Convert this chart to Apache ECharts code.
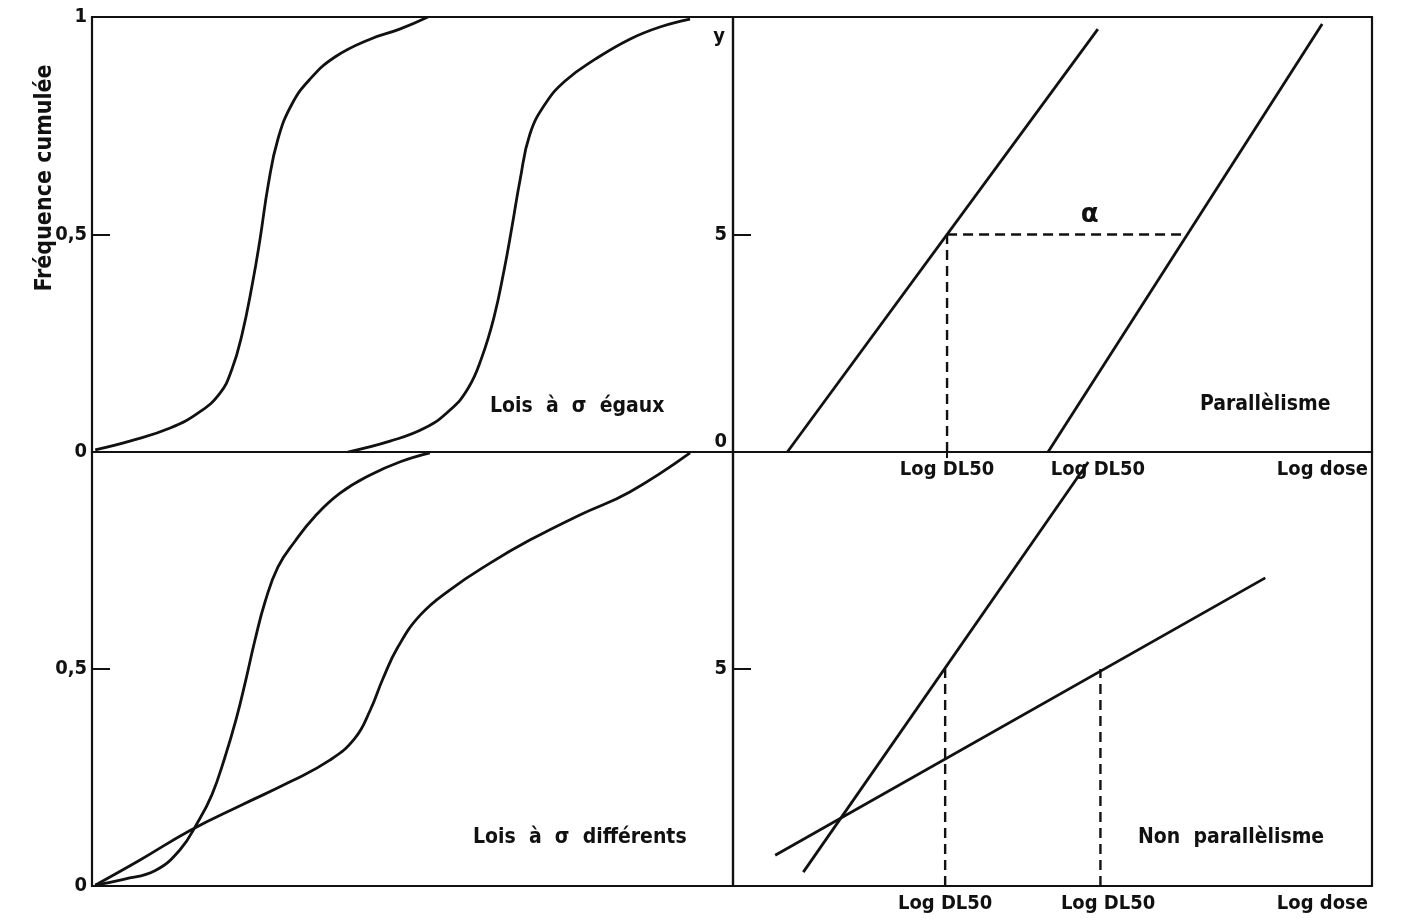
<!DOCTYPE html>
<html>
<head>
<meta charset="utf-8">
<script src="https://cdn.jsdelivr.net/npm/echarts@6/dist/echarts.min.js"></script>
<style>
  html, body { margin: 0; padding: 0; background: #fff; }
  #chart { width: 1406px; height: 924px; }
</style>
</head>
<body>
<div id="chart"></div>
<script>
// Cumulative frequency curves (x: log dose, arbitrary units 0..10; y: frequency 0..1)
const equalSigmaA = [[0.05,0.005],[0.59,0.025],[1.22,0.055],[1.68,0.092],[2.00,0.136],[2.18,0.189],[2.34,0.27],[2.50,0.385],[2.62,0.488],[2.75,0.615],[2.90,0.719],[3.12,0.80],[3.40,0.857],[3.79,0.908],[4.34,0.949],[4.80,0.972],[5.24,1.0]];
const equalSigmaB = [[3.99,0.0],[4.65,0.025],[5.19,0.055],[5.59,0.097],[5.87,0.147],[6.08,0.217],[6.27,0.309],[6.43,0.419],[6.55,0.516],[6.68,0.627],[6.83,0.730],[7.07,0.80],[7.38,0.853],[7.85,0.903],[8.39,0.949],[8.86,0.977],[9.33,0.995]];
const diffSigmaA = [[0.05,0.002],[0.51,0.016],[0.98,0.035],[1.37,0.083],[1.65,0.147],[1.87,0.21],[2.07,0.295],[2.25,0.385],[2.40,0.475],[2.54,0.565],[2.70,0.655],[2.90,0.735],[3.17,0.795],[3.48,0.852],[3.87,0.905],[4.34,0.947],[4.80,0.977],[5.27,0.998]];
const diffSigmaB = [[0.05,0.002],[0.75,0.06],[1.53,0.128],[2.31,0.185],[3.09,0.24],[3.71,0.29],[4.10,0.34],[4.34,0.405],[4.54,0.478],[4.77,0.55],[5.12,0.624],[5.58,0.682],[6.21,0.744],[6.83,0.797],[7.61,0.855],[8.39,0.908],[9.33,0.998]];

// Probit lines (x: log dose 0..10; y: probit 0..10)
const parallelA = [[0.85,0],[5.71,9.72]];
const parallelB = [[4.93,0],[9.22,9.84]];
const parallelDL50 = [3.35, 7.11];
const nonParallelA = [[1.10,0.32],[5.56,9.77]];
const nonParallelB = [[0.66,0.71],[8.33,7.10]];
const nonParallelDL50 = [3.32, 5.75];
const probitMid = 5;

// Tick labels
const freqTicksTop = [0, 0.5, 1];
const freqTicksBottom = [0, 0.5];
const probitTicksTop = [0, 5];
const probitTicksBottom = [5];
const topDoseLabels = [3.35, 5.71];
const bottomDoseLabels = [3.32, 5.87];
const doseLabelText = 'Log DL50';
const doseAxisName = 'Log dose';
const freqName = 'Fréquence cumulée';
const panelTitles = ['Lois  à  σ  égaux', 'Lois  à  σ  différents', 'Parallèlisme', 'Non  parallèlisme'];

const INK = '#111';
const FONT = 'DejaVu Sans Condensed';
const WEIGHT = 'bold';

const grids = [
  { left: 92,  top: 17,  width: 641, height: 435 },
  { left: 733, top: 17,  width: 639, height: 435 },
  { left: 92,  top: 452, width: 641, height: 434 },
  { left: 733, top: 452, width: 639, height: 434 }
].map(g => Object.assign({ show: true, borderColor: INK, borderWidth: 2.2, backgroundColor: 'transparent' }, g));

function freqFmt(v) { return String(v).replace('.', ','); }

function yAxisFreq(gridIndex, ticks) {
  return {
    type: 'value', gridIndex, min: 0, max: 1,
    axisLine: { show: false },
    splitLine: { show: false },
    axisTick: { show: true, inside: true, length: 18, customValues: [0.5], lineStyle: { color: INK, width: 2 } },
    axisLabel: { customValues: ticks, formatter: freqFmt, color: INK, fontFamily: FONT, fontWeight: WEIGHT, fontSize: 20, margin: 5 }
  };
}
function yAxisProbit(gridIndex, ticks, withName) {
  const ax = {
    type: 'value', gridIndex, min: 0, max: 10,
    axisLine: { show: false },
    splitLine: { show: false },
    axisTick: { show: true, inside: true, length: 18, customValues: [probitMid], lineStyle: { color: INK, width: 2 } },
    axisLabel: {
      customValues: ticks, color: INK, fontFamily: FONT, fontWeight: WEIGHT, fontSize: 20, margin: 6,
      formatter: v => v === 0 ? '{z|0}' : String(v),
      rich: { z: { fontFamily: FONT, fontWeight: WEIGHT, fontSize: 20, color: INK, padding: [0, 0, 20, 0] } }
    }
  };
  if (withName) {
    ax.name = 'y';
    ax.nameLocation = 'end';
    ax.nameGap = -30;
    ax.nameTextStyle = { color: INK, fontFamily: FONT, fontWeight: WEIGHT, fontSize: 20, align: 'right', padding: [0, 8, 0, 0] };
  }
  return ax;
}
function xAxisPlain(gridIndex) {
  return {
    type: 'value', gridIndex, min: 0, max: 10,
    axisLine: { show: false }, splitLine: { show: false },
    axisTick: { show: false }, axisLabel: { show: false }
  };
}
function xAxisDose(gridIndex, labels, tickAt) {
  return {
    type: 'value', gridIndex, min: 0, max: 10,
    axisLine: { show: false }, splitLine: { show: false },
    axisTick: { show: tickAt.length > 0, customValues: tickAt, length: 6, lineStyle: { color: INK, width: 2 } },
    axisLabel: { customValues: labels, formatter: () => doseLabelText, color: INK, fontFamily: FONT, fontWeight: WEIGHT, fontSize: 20, margin: 8 },
    name: doseAxisName, nameLocation: 'end', nameGap: 0,
    nameTextStyle: { color: INK, fontFamily: FONT, fontWeight: WEIGHT, fontSize: 20, align: 'right', verticalAlign: 'top', padding: [8, 4, 0, 0] }
  };
}

function curve(data, xi, yi) {
  return { type: 'line', xAxisIndex: xi, yAxisIndex: yi, data, smooth: 0.45, showSymbol: false, silent: true,
           lineStyle: { color: INK, width: 2.8 } };
}
function straight(data, xi, yi) {
  return { type: 'line', xAxisIndex: xi, yAxisIndex: yi, data, showSymbol: false, silent: true,
           lineStyle: { color: INK, width: 2.8 } };
}
function dashed(data, xi, yi) {
  return { type: 'line', xAxisIndex: xi, yAxisIndex: yi, data, showSymbol: false, silent: true,
           lineStyle: { color: INK, width: 2.4, type: [10, 6] } };
}

const series = [
  curve(equalSigmaA, 0, 0), curve(equalSigmaB, 0, 0),
  straight(parallelA, 1, 1), straight(parallelB, 1, 1),
  dashed([[parallelDL50[0], 0], [parallelDL50[0], probitMid]], 1, 1),
  dashed([[parallelDL50[0], probitMid], [parallelDL50[1], probitMid]], 1, 1),
  { type: 'scatter', xAxisIndex: 1, yAxisIndex: 1, symbolSize: 0, silent: true,
    itemStyle: { opacity: 1, color: INK },
    data: [[(parallelDL50[0] + parallelDL50[1]) / 2 + 0.35, probitMid]],
    label: { show: true, formatter: 'α', position: 'top', distance: 6, opacity: 1, color: INK, fontFamily: 'DejaVu Sans', fontWeight: 'bold', fontSize: 26 } },
  curve(diffSigmaA, 2, 2), curve(diffSigmaB, 2, 2),
  straight(nonParallelA, 3, 3), straight(nonParallelB, 3, 3),
  dashed([[nonParallelDL50[0], 0], [nonParallelDL50[0], probitMid]], 3, 3),
  dashed([[nonParallelDL50[1], 0], [nonParallelDL50[1], probitMid]], 3, 3)
];

const titleStyle = { fill: INK, font: 'bold 21px "DejaVu Sans Condensed"', textVerticalAlign: 'middle' };
const option = {
  backgroundColor: '#fff',
  animation: false,
  grid: grids,
  xAxis: [xAxisPlain(0), xAxisDose(1, topDoseLabels, [parallelDL50[0]]), xAxisPlain(2), xAxisDose(3, bottomDoseLabels, [])],
  yAxis: [yAxisFreq(0, freqTicksTop), yAxisProbit(1, probitTicksTop, true), yAxisFreq(2, freqTicksBottom), yAxisProbit(3, probitTicksBottom, false)],
  series,
  graphic: [
    { type: 'text', x: 45, y: 178, rotation: Math.PI / 2,
      style: { text: freqName, fill: INK, font: 'bold 23px "DejaVu Sans Condensed"', textAlign: 'center', textVerticalAlign: 'middle' } },
    { type: 'text', x: 490, y: 407, style: Object.assign({ text: panelTitles[0] }, titleStyle) },
    { type: 'text', x: 473, y: 838, style: Object.assign({ text: panelTitles[1] }, titleStyle) },
    { type: 'text', x: 1200, y: 405, style: Object.assign({ text: panelTitles[2] }, titleStyle) },
    { type: 'text', x: 1138, y: 838, style: Object.assign({ text: panelTitles[3] }, titleStyle) }
  ]
};

const chart = echarts.init(document.getElementById('chart'), null, { renderer: 'canvas' });
chart.setOption(option);
</script>
</body>
</html>
